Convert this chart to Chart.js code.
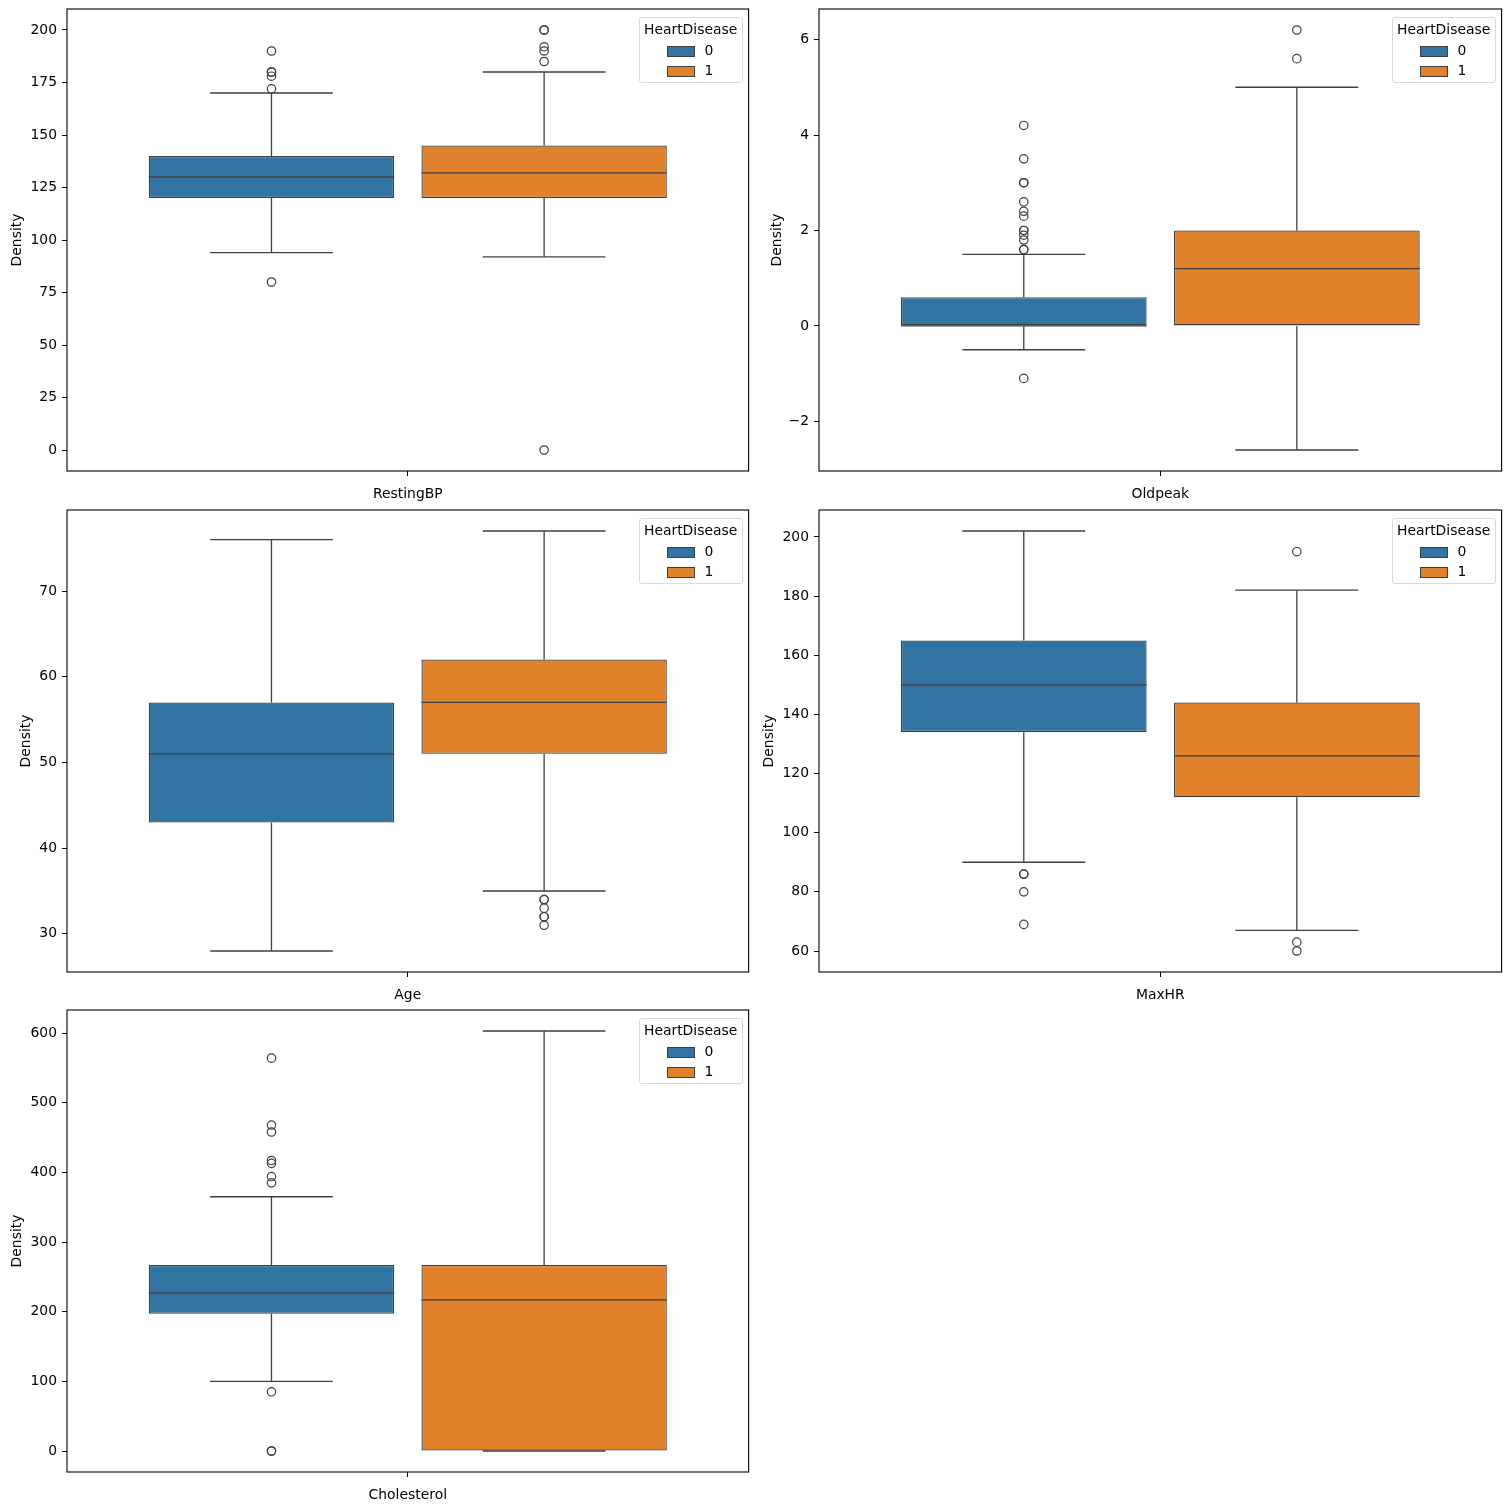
<!DOCTYPE html>
<html>
<head>
<meta charset="utf-8">
<script src="https://cdn.jsdelivr.net/npm/chart.js@4.4.0/dist/chart.umd.min.js"></script>
<style>
  body { margin: 0; background: #fff; font-family: "DejaVu Sans", sans-serif; }
  #fig { position: relative; width: 1511px; height: 1511px; }
  .panel { position: absolute; }
  .legend { position: absolute; width: 102px; height: 64px; border: 1px solid #d9d9d9; border-radius: 3px;
            background: rgba(255,255,255,0.8); font-size: 13.9px; color: #000; }
  .legend .lt { position: absolute; left: 0; right: 0; top: 3px; text-align: center; }
  .legend .sw { position: absolute; left: 27px; width: 26px; height: 9px; border: 1px solid #3f3f3f; }
  .legend .lb { position: absolute; left: 65px; line-height: 16px; }
</style>
</head>
<body>
<div id="fig"></div>
<script>
const groups = ["0", "1"];
const groupColors = ["#3274a1", "#e1812c"];

// five-number summaries: [lower whisker, Q1, median, Q3, upper whisker]
const restingBPNo = [94, 120, 130, 140, 170];
const restingBPYes = [92, 120, 132, 145, 180];
const restingBPOutNo = [190, 180, 180, 178, 172, 80];
const restingBPOutYes = [200, 200, 192, 190, 185, 0];
const restingBPTicks = [0, 25, 50, 75, 100, 125, 150, 175, 200];

const oldpeakNo = [-0.5, 0, 0, 0.6, 1.5];
const oldpeakYes = [-2.6, 0, 1.2, 2, 5];
const oldpeakOutNo = [4.2, 3.5, 3, 3, 2.6, 2.4, 2.3, 2, 2, 1.9, 1.8, 1.6, 1.6, -1.1];
const oldpeakOutYes = [6.2, 5.6];
const oldpeakTicks = [-2, 0, 2, 4, 6];

const ageNo = [28, 43, 51, 57, 76];
const ageYes = [35, 51, 57, 62, 77];
const ageOutNo = [];
const ageOutYes = [34, 34, 33, 32, 32, 31];
const ageTicks = [30, 40, 50, 60, 70];

const maxHRNo = [90, 134, 150, 165, 202];
const maxHRYes = [67, 112, 126, 144, 182];
const maxHROutNo = [86, 86, 80, 69];
const maxHROutYes = [195, 63, 60];
const maxHRTicks = [60, 80, 100, 120, 140, 160, 180, 200];

const cholNo = [100, 197, 227, 267, 365];
const cholYes = [0, 0, 217, 267, 603];
const cholOutNo = [564, 468, 458, 417, 413, 394, 385, 85, 0, 0];
const cholOutYes = [];
const cholTicks = [0, 100, 200, 300, 400, 500, 600];

/* ============================================= */
/*                  Layout                       */
/* ============================================= */
const panels = [
  { name: "RestingBP", stats: [restingBPNo, restingBPYes], out: [restingBPOutNo, restingBPOutYes], ticks: restingBPTicks,
    left: 9, top: 0, width: 745, yw: 58 },
  { name: "Oldpeak", stats: [oldpeakNo, oldpeakYes], out: [oldpeakOutNo, oldpeakOutYes], ticks: oldpeakTicks,
    left: 769, top: 0, width: 738, yw: 50 },
  { name: "Age", stats: [ageNo, ageYes], out: [ageOutNo, ageOutYes], ticks: ageTicks,
    left: 18, top: 501, width: 736, yw: 49 },
  { name: "MaxHR", stats: [maxHRNo, maxHRYes], out: [maxHROutNo, maxHROutYes], ticks: maxHRTicks,
    left: 761, top: 501, width: 746, yw: 58 },
  { name: "Cholesterol", stats: [cholNo, cholYes], out: [cholOutNo, cholOutYes], ticks: cholTicks,
    left: 9, top: 1001, width: 745, yw: 58 },
];

const font = { family: "DejaVu Sans", size: 13.9 };
const lineColor = "#3f3f3f";
const dodge = [-0.2, 0.2];

const framePlugin = {
  id: "frame",
  afterDraw(chart) {
    const { ctx, chartArea: a } = chart;
    ctx.save();
    ctx.strokeStyle = "#000";
    ctx.lineWidth = 1.1;
    ctx.strokeRect(a.left, a.top, a.right - a.left, a.bottom - a.top);
    ctx.restore();
  }
};

const fmt = (v) => (v < 0 ? "\u2212" + Math.abs(v) : String(v));
const noPad = (s) => { s.paddingTop = 0; s.paddingBottom = 0; s.paddingLeft = 0; s.paddingRight = 0; };

const fig = document.querySelector("#fig");

panels.forEach((p) => {
  const div = document.createElement("div");
  div.className = "panel";
  div.style.left = p.left + "px";
  div.style.top = p.top + "px";
  div.style.width = p.width + "px";
  div.style.height = "506px";
  const canvas = document.createElement("canvas");
  div.appendChild(canvas);
  fig.appendChild(div);

  // legend
  const leg = document.createElement("div");
  leg.className = "legend";
  leg.style.right = "12px";
  leg.style.top = "17px";
  let html = '<div class="lt">HeartDisease</div>';
  groups.forEach((g, i) => {
    html += '<span class="sw" style="top:' + (28 + i * 20) + 'px;background:' + groupColors[i] + '"></span>';
    html += '<span class="lb" style="top:' + (24 + i * 20) + 'px">' + g + '</span>';
  });
  leg.innerHTML = html;
  div.appendChild(leg);

  const all = p.stats.flat().concat(p.out.flat());
  const lo = Math.min(...all), hi = Math.max(...all), pad = (hi - lo) * 0.05;

  // whiskers, caps and medians as broken line segments
  const segs = [];
  p.stats.forEach((s, i) => {
    const x = dodge[i];
    [
      [[x - 0.18, s[2]], [x + 0.18, s[2]]],
      [[x, s[0]], [x, s[1]]],
      [[x, s[3]], [x, s[4]]],
      [[x - 0.09, s[0]], [x + 0.09, s[0]]],
      [[x - 0.09, s[4]], [x + 0.09, s[4]]],
    ].forEach((seg) => {
      seg.forEach((pt) => segs.push({ x: pt[0], y: pt[1] }));
      segs.push({ x: x, y: null });
    });
  });

  const outliers = p.out.flatMap((arr, i) => arr.map((v) => ({ x: dodge[i], y: v })));

  const chart = new Chart(canvas, {
    type: "bar",
    data: {
      datasets: [
        {
          type: "scatter",
          data: outliers,
          pointRadius: 4.2,
          pointBorderWidth: 1.2,
          pointBorderColor: lineColor,
          pointBackgroundColor: "rgba(0,0,0,0)",
          order: 0,
        },
        {
          type: "line",
          data: segs,
          borderColor: lineColor,
          borderWidth: 1.3,
          pointRadius: 0,
          fill: false,
          spanGaps: false,
          order: 1,
        },
        {
          data: p.stats.map((s, i) => ({ x: dodge[i], y: [s[1], s[3]] })),
          backgroundColor: groupColors,
          borderColor: lineColor,
          borderWidth: 1.3,
          borderSkipped: false,
          categoryPercentage: 1,
          barPercentage: 0.9,
          order: 2,
        },
      ],
    },
    options: {
      responsive: true,
      maintainAspectRatio: false,
      animation: false,
      layout: { padding: { top: 9, left: 0, right: 0, bottom: 0 } },
      plugins: { legend: { display: false }, tooltip: { enabled: false } },
      scales: {
        x: {
          type: "linear",
          min: -0.5,
          max: 0.5,
          offset: false,
          afterBuildTicks: (s) => { s.ticks = [{ value: 0 }]; },
          afterFit: (s) => { s.height = 35; noPad(s); },
          ticks: { callback: () => p.name, color: "#000", font: font, padding: 10, maxRotation: 0, autoSkip: false },
          grid: { drawOnChartArea: false, drawTicks: true, tickLength: 5, tickColor: "#000", offset: false },
          border: { display: false },
        },
        y: {
          type: "linear",
          min: lo - pad,
          max: hi + pad,
          afterBuildTicks: (s) => { s.ticks = p.ticks.map((v) => ({ value: v })); },
          afterFit: (s) => { s.width = p.yw; noPad(s); },
          ticks: { callback: fmt, color: "#000", font: font, padding: 5 },
          grid: { drawOnChartArea: false, drawTicks: true, tickLength: 5, tickColor: "#000" },
          border: { display: false },
          title: { display: true, text: "Density", color: "#000", font: font, padding: { top: 0, bottom: 0 } },
        },
      },
    },
    plugins: [framePlugin],
  });
  // keep the legend pinned to the plot's top-right corner
  leg.style.right = (p.width - chart.chartArea.right + 6) + "px";
});
</script>
</body>
</html>
